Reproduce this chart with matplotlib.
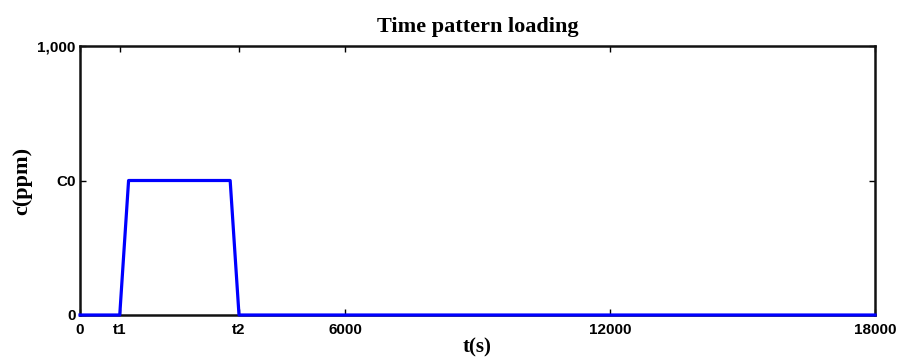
import matplotlib
matplotlib.use("Agg")
import matplotlib.pyplot as plt

# data
t_points = [0, 900, 1100, 3400, 3600, 18000]
c_points = [0, 0, 500, 500, 0, 0]
x_ticks = [0, 900, 3600, 6000, 12000, 18000]
x_tick_labels = ["0", "t1", "t2", "6000", "12000", "18000"]
y_ticks = [0, 500, 1000]
y_tick_labels = ["0", "C0", "1,000"]

fig = plt.figure(figsize=(9, 3.63), dpi=100)
ax = fig.add_axes([80/900, 48/363, 795/900, 269/363])
ax.plot(t_points, c_points, color="#0000ff", lw=2.3, clip_on=False, zorder=3)
ax.set_xlim(0, 18000)
ax.set_ylim(0, 1000)
ax.set_xticks(x_ticks)
ax.set_xticklabels(x_tick_labels, fontfamily="Liberation Sans", fontweight="bold", fontsize=11)
ax.set_yticks(y_ticks)
ax.set_yticklabels(y_tick_labels, fontfamily="Liberation Sans", fontweight="bold", fontsize=11)
ax.tick_params(axis="x", pad=6)
ax.tick_params(axis="y", pad=3)
ax.tick_params(direction="in", length=4, width=1, top=True, right=True, colors="black")
for s in ax.spines.values():
    s.set_linewidth(1.8)
    s.set_color("#111111")
ax.set_title("Time pattern loading", fontfamily="Liberation Serif", fontweight="bold", fontsize=16, pad=10)
ax.set_xlabel("t(s)", fontfamily="Liberation Serif", fontweight="bold", fontsize=15, labelpad=0)
ax.set_ylabel("c(ppm)", fontfamily="Liberation Serif", fontweight="bold", fontsize=16, labelpad=4)
fig.savefig("out.png", dpi=100)
